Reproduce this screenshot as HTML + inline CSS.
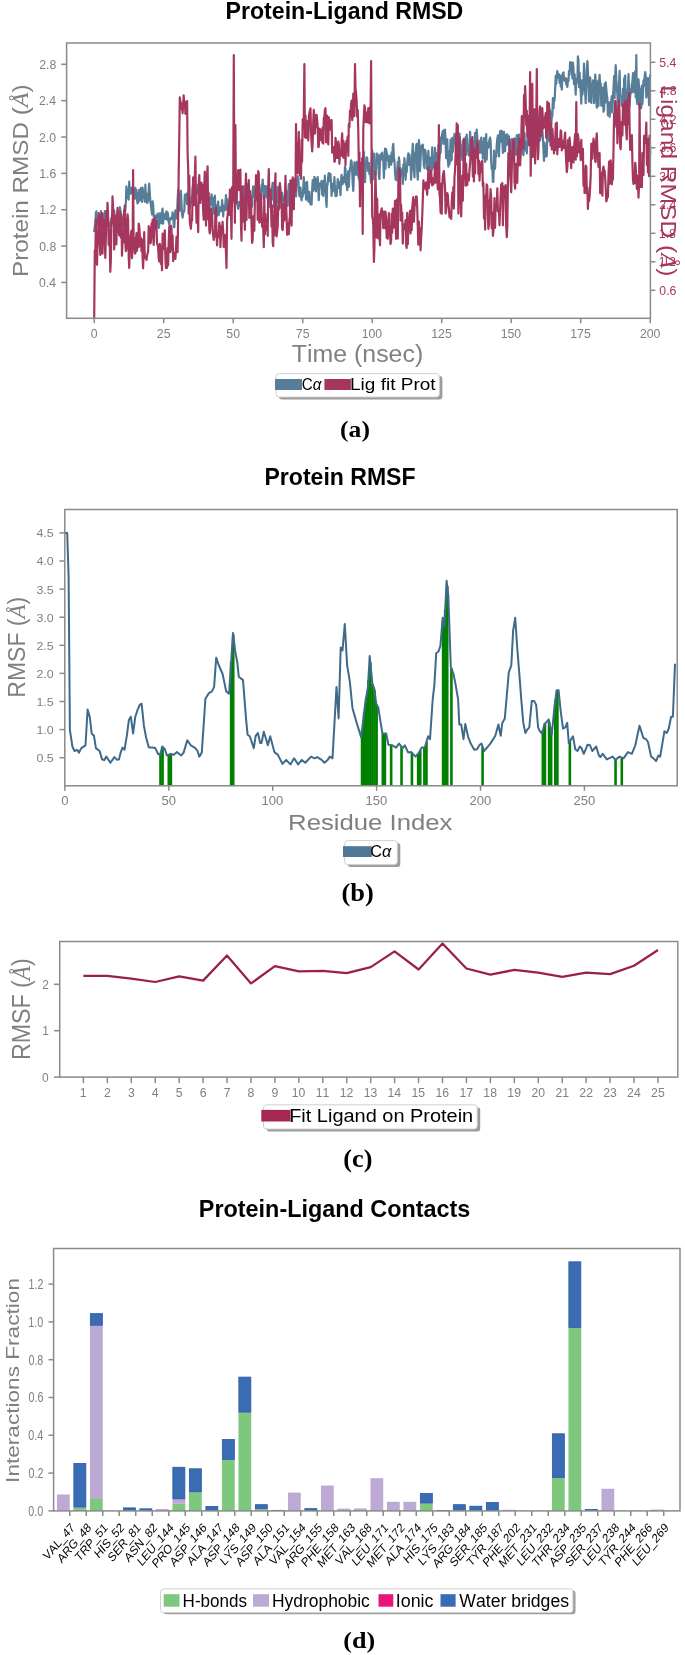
<!DOCTYPE html>
<html><head><meta charset="utf-8"><style>
html,body{margin:0;padding:0;background:#fff;}
svg{display:block;font-kerning:none;will-change:transform;}
</style></head><body>
<svg width="685" height="1655" viewBox="0 0 685 1655">
<rect x="0" y="0" width="685" height="1655" fill="#fff"/>
<text transform="matrix(0.9954,0,0,1.0000,225.551,18.500)" font-family="Liberation Sans" font-size="23.256" fill="#000" font-weight="bold">Protein-Ligand RMSD</text>
<polyline points="94.2,232.0 94.8,225.9 95.3,224.0 95.9,212.7 96.4,211.4 97.0,222.6 97.5,224.2 98.1,221.0 98.6,219.5 99.2,216.3 99.8,219.4 100.3,220.7 100.9,211.1 101.4,221.3 102.0,221.5 102.5,221.6 103.1,215.1 103.7,214.1 104.2,222.8 104.8,211.2 105.3,223.4 105.9,221.1 106.4,217.9 107.0,213.8 107.5,216.9 108.1,219.8 108.7,224.3 109.2,222.2 109.8,225.2 110.3,227.1 110.9,224.0 111.4,225.3 112.0,214.8 112.5,222.6 113.1,210.3 113.7,212.3 114.2,210.7 114.8,223.0 115.3,221.4 115.9,221.7 116.4,225.4 117.0,219.4 117.6,213.5 118.1,217.4 118.7,210.5 119.2,216.2 119.8,207.2 120.3,209.3 120.9,221.4 121.4,217.1 122.0,219.2 122.6,218.3 123.1,225.4 123.7,217.9 124.2,209.8 124.8,218.1 125.3,210.9 125.9,201.1 126.4,186.4 127.0,191.9 127.6,195.6 128.1,198.0 128.7,199.5 129.2,181.7 129.8,194.0 130.3,187.6 130.9,193.3 131.5,190.0 132.0,188.9 132.6,187.0 133.1,198.4 133.7,196.0 134.2,189.7 134.8,198.8 135.3,187.9 135.9,195.8 136.5,189.9 137.0,199.6 137.6,203.5 138.1,192.9 138.7,201.8 139.2,189.8 139.8,192.5 140.3,199.9 140.9,188.1 141.5,198.4 142.0,201.9 142.6,187.6 143.1,197.9 143.7,191.2 144.2,190.5 144.8,201.8 145.4,184.7 145.9,198.8 146.5,193.5 147.0,203.0 147.6,202.2 148.1,200.0 148.7,190.6 149.2,183.7 149.8,192.5 150.4,202.1 150.9,204.7 151.5,210.2 152.0,214.4 152.6,201.4 153.1,203.9 153.7,216.6 154.2,217.7 154.8,220.3 155.4,215.5 155.9,217.4 156.5,216.1 157.0,218.5 157.6,213.6 158.1,223.8 158.7,227.9 159.3,223.4 159.8,213.4 160.4,213.3 160.9,215.8 161.5,223.3 162.0,213.1 162.6,208.5 163.1,223.7 163.7,214.1 164.3,214.3 164.8,215.0 165.4,219.0 165.9,214.1 166.5,211.3 167.0,219.7 167.6,212.6 168.1,214.7 168.7,222.0 169.3,224.8 169.8,220.0 170.4,219.3 170.9,217.8 171.5,218.0 172.0,219.2 172.6,212.3 173.2,215.5 173.7,224.7 174.3,227.3 174.8,218.1 175.4,210.4 175.9,215.1 176.5,218.4 177.0,217.3 177.6,199.9 178.2,189.2 178.7,207.0 179.3,194.5 179.8,210.6 180.4,194.1 180.9,190.8 181.5,203.4 182.0,214.5 182.6,217.6 183.2,213.2 183.7,211.4 184.3,211.3 184.8,194.9 185.4,200.9 185.9,195.4 186.5,193.6 187.1,204.2 187.6,199.1 188.2,196.8 188.7,190.1 189.3,206.9 189.8,207.6 190.4,205.4 190.9,203.0 191.5,196.6 192.1,202.8 192.6,187.1 193.2,200.5 193.7,194.3 194.3,186.2 194.8,183.7 195.4,185.5 195.9,194.8 196.5,188.9 197.1,189.6 197.6,193.7 198.2,184.9 198.7,190.3 199.3,184.5 199.8,185.9 200.4,182.3 201.0,188.8 201.5,190.8 202.1,199.6 202.6,194.9 203.2,201.9 203.7,201.5 204.3,195.2 204.8,187.7 205.4,197.8 206.0,208.1 206.5,198.8 207.1,197.4 207.6,211.2 208.2,202.2 208.7,200.4 209.3,209.3 209.8,197.8 210.4,198.3 211.0,205.2 211.5,194.4 212.1,200.5 212.6,197.4 213.2,213.5 213.7,209.6 214.3,202.1 214.9,195.7 215.4,211.8 216.0,218.2 216.5,216.5 217.1,205.0 217.6,209.2 218.2,201.7 218.7,215.1 219.3,210.0 219.9,207.3 220.4,211.5 221.0,209.4 221.5,210.6 222.1,200.2 222.6,207.5 223.2,216.5 223.7,205.8 224.3,208.2 224.9,210.2 225.4,203.1 226.0,195.1 226.5,206.9 227.1,209.8 227.6,199.7 228.2,210.5 228.8,202.9 229.3,205.6 229.9,197.1 230.4,198.4 231.0,195.2 231.5,189.4 232.1,187.1 232.6,199.5 233.2,192.2 233.8,194.2 234.3,202.7 234.9,201.3 235.4,196.9 236.0,198.0 236.5,191.9 237.1,202.2 237.6,204.8 238.2,208.9 238.8,202.6 239.3,201.9 239.9,202.7 240.4,206.4 241.0,202.5 241.5,189.3 242.1,197.7 242.7,197.9 243.2,191.4 243.8,186.0 244.3,196.2 244.9,198.1 245.4,205.3 246.0,205.8 246.5,191.2 247.1,189.7 247.7,195.2 248.2,192.8 248.8,199.4 249.3,205.0 249.9,208.3 250.4,205.7 251.0,206.1 251.5,207.4 252.1,205.7 252.7,190.5 253.2,186.5 253.8,186.3 254.3,197.1 254.9,195.2 255.4,192.1 256.0,200.2 256.6,191.3 257.1,199.2 257.7,194.8 258.2,197.8 258.8,186.8 259.3,198.8 259.9,196.4 260.4,190.4 261.0,192.3 261.6,185.2 262.1,185.6 262.7,179.6 263.2,190.6 263.8,199.1 264.3,194.9 264.9,185.9 265.4,186.7 266.0,192.2 266.6,197.2 267.1,186.4 267.7,198.1 268.2,202.6 268.8,207.2 269.3,194.6 269.9,201.9 270.5,194.7 271.0,199.2 271.6,199.8 272.1,187.0 272.7,182.8 273.2,182.9 273.8,199.5 274.3,206.8 274.9,205.8 275.5,212.2 276.0,195.9 276.6,205.0 277.1,194.4 277.7,187.0 278.2,188.9 278.8,202.1 279.3,202.7 279.9,204.9 280.5,207.6 281.0,197.7 281.6,202.0 282.1,192.7 282.7,198.9 283.2,200.9 283.8,196.8 284.4,201.6 284.9,196.1 285.5,199.0 286.0,190.4 286.6,196.1 287.1,203.0 287.7,205.9 288.2,194.3 288.8,184.2 289.4,200.4 289.9,197.3 290.5,184.9 291.0,181.3 291.6,181.5 292.1,189.9 292.7,185.2 293.2,182.9 293.8,186.7 294.4,192.4 294.9,192.6 295.5,183.8 296.0,196.5 296.6,181.0 297.1,179.7 297.7,176.2 298.3,178.2 298.8,188.8 299.4,196.2 299.9,188.0 300.5,187.5 301.0,197.4 301.6,200.3 302.1,194.0 302.7,196.7 303.3,187.5 303.8,177.1 304.4,190.9 304.9,193.4 305.5,182.8 306.0,199.6 306.6,190.6 307.1,181.9 307.7,197.4 308.3,201.3 308.8,195.8 309.4,191.9 309.9,201.1 310.5,204.3 311.0,200.9 311.6,204.4 312.2,188.5 312.7,180.2 313.3,191.0 313.8,189.5 314.4,176.9 314.9,178.4 315.5,180.6 316.0,191.5 316.6,179.1 317.2,182.5 317.7,177.2 318.3,189.0 318.8,200.1 319.4,188.8 319.9,183.3 320.5,186.7 321.0,183.7 321.6,180.8 322.2,194.6 322.7,184.9 323.3,195.9 323.8,180.5 324.4,185.7 324.9,175.7 325.5,189.7 326.1,199.6 326.6,206.9 327.2,184.0 327.7,184.5 328.3,175.2 328.8,173.0 329.4,175.9 329.9,181.0 330.5,173.8 331.1,185.2 331.6,195.9 332.2,183.8 332.7,191.6 333.3,188.5 333.8,188.3 334.4,177.1 334.9,187.2 335.5,196.1 336.1,193.5 336.6,196.0 337.2,187.6 337.7,179.0 338.3,187.8 338.8,187.7 339.4,181.8 340.0,189.2 340.5,195.1 341.1,179.3 341.6,174.9 342.2,184.4 342.7,183.9 343.3,180.2 343.8,177.0 344.4,182.2 345.0,166.8 345.5,169.0 346.1,184.6 346.6,182.9 347.2,190.1 347.7,177.4 348.3,171.1 348.8,186.8 349.4,174.3 350.0,169.0 350.5,166.2 351.1,160.3 351.6,161.7 352.2,171.4 352.7,183.6 353.3,190.8 353.9,173.4 354.4,162.4 355.0,170.3 355.5,174.7 356.1,167.6 356.6,162.5 357.2,161.6 357.7,175.4 358.3,162.1 358.9,178.9 359.4,167.6 360.0,185.5 360.5,190.9 361.1,177.0 361.6,171.0 362.2,164.9 362.7,157.8 363.3,160.4 363.9,152.2 364.4,174.0 365.0,182.2 365.5,166.5 366.1,164.9 366.6,157.4 367.2,157.9 367.8,170.8 368.3,165.5 368.9,163.0 369.4,174.1 370.0,170.5 370.5,177.1 371.1,183.0 371.6,160.2 372.2,150.0 372.8,175.0 373.3,179.3 373.9,153.7 374.4,169.3 375.0,171.3 375.5,174.5 376.1,168.4 376.6,153.5 377.2,153.9 377.8,155.6 378.3,155.6 378.9,175.8 379.4,179.0 380.0,161.3 380.5,154.4 381.1,159.5 381.7,156.0 382.2,152.7 382.8,157.2 383.3,161.3 383.9,177.9 384.4,165.4 385.0,148.5 385.5,168.7 386.1,149.1 386.7,153.1 387.2,153.9 387.8,160.3 388.3,158.4 388.9,167.3 389.4,156.3 390.0,155.7 390.5,164.2 391.1,164.8 391.7,152.3 392.2,161.6 392.8,146.1 393.3,143.9 393.9,157.1 394.4,160.2 395.0,171.7 395.6,179.5 396.1,174.9 396.7,180.5 397.2,170.2 397.8,161.8 398.3,175.9 398.9,157.4 399.4,161.3 400.0,178.4 400.6,168.1 401.1,170.7 401.7,174.7 402.2,170.9 402.8,183.9 403.3,164.6 403.9,175.5 404.4,158.0 405.0,166.9 405.6,179.8 406.1,169.3 406.7,172.3 407.2,163.1 407.8,156.8 408.3,153.3 408.9,164.8 409.5,154.7 410.0,160.5 410.6,163.8 411.1,179.6 411.7,168.3 412.2,154.8 412.8,143.8 413.3,158.9 413.9,170.0 414.5,177.3 415.0,152.7 415.6,155.2 416.1,146.2 416.7,143.9 417.2,171.1 417.8,179.7 418.3,155.4 418.9,140.0 419.5,148.1 420.0,171.1 420.6,158.7 421.1,146.5 421.7,145.6 422.2,148.2 422.8,144.5 423.4,156.5 423.9,166.0 424.5,168.1 425.0,149.6 425.6,151.6 426.1,160.2 426.7,156.5 427.2,169.4 427.8,162.1 428.4,150.9 428.9,163.2 429.5,172.6 430.0,157.5 430.6,157.6 431.1,166.7 431.7,170.4 432.2,147.4 432.8,168.2 433.4,163.4 433.9,158.0 434.5,161.4 435.0,147.8 435.6,164.8 436.1,152.8 436.7,171.3 437.3,181.7 437.8,176.0 438.4,145.3 438.9,162.7 439.5,157.5 440.0,145.9 440.6,152.8 441.1,137.4 441.7,138.9 442.3,133.2 442.8,131.2 443.4,144.0 443.9,130.3 444.5,130.7 445.0,129.6 445.6,142.2 446.1,158.1 446.7,147.3 447.3,139.3 447.8,159.4 448.4,166.6 448.9,151.5 449.5,164.2 450.0,155.3 450.6,139.6 451.2,160.6 451.7,159.4 452.3,137.8 452.8,151.9 453.4,147.1 453.9,141.2 454.5,133.8 455.0,134.6 455.6,138.3 456.2,151.7 456.7,154.5 457.3,159.2 457.8,152.4 458.4,144.6 458.9,135.5 459.5,133.6 460.0,142.2 460.6,156.0 461.2,145.6 461.7,148.1 462.3,160.2 462.8,140.7 463.4,151.9 463.9,155.7 464.5,151.0 465.1,151.2 465.6,137.1 466.2,154.8 466.7,134.5 467.3,150.8 467.8,146.6 468.4,149.7 468.9,155.6 469.5,142.4 470.1,131.9 470.6,143.0 471.2,158.9 471.7,159.4 472.3,159.7 472.8,155.8 473.4,141.7 473.9,153.2 474.5,141.0 475.1,132.9 475.6,143.6 476.2,148.0 476.7,129.7 477.3,137.3 477.8,144.9 478.4,152.9 479.0,152.9 479.5,149.1 480.1,140.6 480.6,152.6 481.2,137.5 481.7,145.3 482.3,144.1 482.8,158.6 483.4,147.8 484.0,138.0 484.5,145.3 485.1,161.9 485.6,141.2 486.2,134.0 486.7,159.6 487.3,142.9 487.8,146.0 488.4,147.7 489.0,143.0 489.5,139.5 490.1,137.6 490.6,141.2 491.2,161.3 491.7,168.9 492.3,166.7 492.9,182.0 493.4,182.0 494.0,150.6 494.5,169.2 495.1,168.1 495.6,155.3 496.2,156.5 496.7,145.3 497.3,139.0 497.9,135.4 498.4,144.8 499.0,156.5 499.5,140.6 500.1,131.2 500.6,141.9 501.2,136.6 501.7,130.9 502.3,139.7 502.9,152.9 503.4,143.2 504.0,131.8 504.5,146.7 505.1,151.3 505.6,139.5 506.2,134.8 506.8,145.0 507.3,134.3 507.9,140.5 508.4,143.4 509.0,136.4 509.5,145.8 510.1,156.3 510.6,159.3 511.2,155.6 511.8,139.0 512.3,153.4 512.9,150.3 513.4,141.1 514.0,154.1 514.5,138.4 515.1,151.1 515.6,141.8 516.2,154.8 516.8,135.1 517.3,136.1 517.9,153.9 518.4,136.4 519.0,134.5 519.5,152.2 520.1,157.3 520.7,143.2 521.2,144.6 521.8,141.2 522.3,137.3 522.9,152.7 523.4,155.1 524.0,140.7 524.5,133.1 525.1,150.3 525.7,147.1 526.2,142.3 526.8,153.4 527.3,140.9 527.9,134.1 528.4,134.6 529.0,129.3 529.5,135.2 530.1,144.0 530.7,136.3 531.2,142.1 531.8,152.0 532.3,136.8 532.9,129.9 533.4,138.9 534.0,136.4 534.6,139.5 535.1,139.3 535.7,140.3 536.2,132.4 536.8,137.7 537.3,140.5 537.9,137.7 538.4,135.0 539.0,140.7 539.6,140.9 540.1,140.2 540.7,132.4 541.2,127.7 541.8,127.6 542.3,129.8 542.9,137.9 543.4,148.8 544.0,160.8 544.6,142.7 545.1,148.0 545.7,149.4 546.2,156.7 546.8,155.9 547.3,134.5 547.9,127.2 548.5,140.9 549.0,139.9 549.6,122.8 550.1,110.4 550.7,126.3 551.2,123.1 551.8,117.1 552.3,116.2 552.9,98.2 553.5,108.4 554.0,100.1 554.6,100.3 555.1,90.3 555.7,75.9 556.2,84.0 556.8,76.4 557.3,71.1 557.9,74.9 558.5,77.9 559.0,74.4 559.6,82.8 560.1,75.3 560.7,86.5 561.2,82.9 561.8,89.7 562.4,75.2 562.9,73.0 563.5,72.4 564.0,78.5 564.6,80.8 565.1,80.5 565.7,78.0 566.2,84.2 566.8,85.2 567.4,87.0 567.9,78.8 568.5,81.2 569.0,71.2 569.6,74.7 570.1,62.2 570.7,62.4 571.2,68.6 571.8,66.5 572.4,78.5 572.9,62.5 573.5,68.8 574.0,84.1 574.6,74.1 575.1,81.6 575.7,94.6 576.3,78.8 576.8,81.9 577.4,82.3 577.9,56.3 578.5,60.6 579.0,87.2 579.6,72.6 580.1,83.8 580.7,91.2 581.3,103.7 581.8,80.4 582.4,94.7 582.9,88.8 583.5,80.9 584.0,63.7 584.6,88.2 585.1,91.3 585.7,103.2 586.3,81.3 586.8,68.8 587.4,61.1 587.9,70.2 588.5,87.6 589.0,101.7 589.6,77.8 590.2,77.5 590.7,94.9 591.3,103.0 591.8,83.6 592.4,92.1 592.9,80.3 593.5,85.8 594.0,103.1 594.6,93.5 595.2,74.5 595.7,80.0 596.3,99.8 596.8,107.7 597.4,81.4 597.9,102.0 598.5,105.8 599.0,82.7 599.6,74.8 600.2,88.2 600.7,83.3 601.3,105.8 601.8,90.5 602.4,87.7 602.9,90.4 603.5,111.8 604.1,109.6 604.6,83.9 605.2,102.7 605.7,82.4 606.3,89.1 606.8,94.4 607.4,98.9 607.9,115.3 608.5,102.9 609.1,102.4 609.6,116.8 610.2,111.3 610.7,102.2 611.3,100.7 611.8,96.0 612.4,112.4 612.9,97.9 613.5,88.9 614.1,76.0 614.6,98.1 615.2,76.0 615.7,65.2 616.3,79.4 616.8,85.6 617.4,95.5 618.0,107.2 618.5,114.9 619.1,82.4 619.6,70.9 620.2,96.8 620.7,96.2 621.3,98.0 621.8,105.8 622.4,101.0 623.0,88.6 623.5,112.3 624.1,79.4 624.6,77.3 625.2,75.6 625.7,98.4 626.3,115.0 626.8,117.6 627.4,90.3 628.0,89.4 628.5,74.2 629.1,89.7 629.6,106.1 630.2,96.3 630.7,89.2 631.3,92.8 631.9,83.6 632.4,82.2 633.0,73.2 633.5,92.2 634.1,86.4 634.6,79.9 635.2,71.4 635.7,97.3 636.3,55.0 636.9,101.5 637.4,104.1 638.0,95.1 638.5,79.4 639.1,87.5 639.6,108.6 640.2,107.5 640.7,88.8 641.3,108.0 641.9,85.5 642.4,104.1 643.0,93.9 643.5,80.4 644.1,86.0 644.6,76.9 645.2,72.1 645.8,77.1 646.3,97.5 646.9,93.4 647.4,86.2 648.0,78.0 648.5,89.5 649.1,105.1 649.6,83.4 650.2,74.7" fill="none" stroke="#577d98" stroke-width="2.2" stroke-linejoin="round" />
<polyline points="94.2,318.3 94.8,250.2 95.3,256.9 95.9,219.4 96.4,254.8 97.0,264.8 97.5,245.3 98.1,242.3 98.6,213.0 99.2,216.8 99.8,243.9 100.3,254.9 100.9,249.2 101.4,214.4 102.0,213.1 102.5,253.6 103.1,230.9 103.7,236.1 104.2,220.1 104.8,240.2 105.3,258.0 105.9,235.8 106.4,210.9 107.0,217.9 107.5,202.8 108.1,215.3 108.7,245.1 109.2,229.0 109.8,246.5 110.3,271.8 110.9,258.4 111.4,218.3 112.0,222.6 112.5,196.4 113.1,208.5 113.7,210.5 114.2,249.4 114.8,232.6 115.3,236.1 115.9,215.8 116.4,244.4 117.0,215.2 117.6,207.8 118.1,232.1 118.7,226.7 119.2,235.4 119.8,226.8 120.3,211.6 120.9,237.6 121.4,214.7 122.0,255.7 122.6,238.7 123.1,242.3 123.7,236.6 124.2,214.4 124.8,205.6 125.3,243.3 125.9,251.1 126.4,248.7 127.0,221.6 127.6,214.3 128.1,219.2 128.7,256.2 129.2,267.9 129.8,247.7 130.3,240.2 130.9,233.9 131.5,230.5 132.0,258.2 132.6,245.8 133.1,170.0 133.7,247.9 134.2,238.0 134.8,253.2 135.3,253.6 135.9,240.9 136.5,233.0 137.0,250.9 137.6,237.0 138.1,247.3 138.7,223.7 139.2,225.7 139.8,235.4 140.3,246.6 140.9,237.8 141.5,251.3 142.0,239.5 142.6,257.5 143.1,268.3 143.7,252.6 144.2,232.2 144.8,257.8 145.4,256.3 145.9,257.4 146.5,260.0 147.0,256.0 147.6,252.8 148.1,252.2 148.7,226.2 149.2,234.6 149.8,228.1 150.4,243.5 150.9,241.9 151.5,223.7 152.0,228.5 152.6,219.5 153.1,235.2 153.7,245.0 154.2,232.6 154.8,218.1 155.4,224.9 155.9,220.3 156.5,225.7 157.0,243.2 157.6,245.0 158.1,247.1 158.7,258.0 159.3,261.5 159.8,243.9 160.4,247.4 160.9,264.0 161.5,254.9 162.0,270.2 162.6,233.7 163.1,244.6 163.7,249.1 164.3,239.9 164.8,230.3 165.4,258.6 165.9,268.0 166.5,255.8 167.0,267.9 167.6,248.1 168.1,265.4 168.7,241.8 169.3,226.5 169.8,234.8 170.4,252.1 170.9,225.5 171.5,227.3 172.0,249.5 172.6,235.4 173.2,261.1 173.7,253.9 174.3,253.0 174.8,256.8 175.4,258.9 175.9,250.0 176.5,236.8 177.0,239.3 177.6,252.1 178.2,213.0 178.7,172.0 179.3,135.6 179.8,97.4 180.4,101.3 180.9,109.2 181.5,106.7 182.0,103.6 182.6,113.3 183.2,103.9 183.7,95.3 184.3,106.7 184.8,101.3 185.4,113.8 185.9,108.2 186.5,106.7 187.1,101.1 187.6,153.9 188.2,168.2 188.7,213.7 189.3,175.6 189.8,221.4 190.4,226.2 190.9,228.7 191.5,219.6 192.1,220.6 192.6,195.1 193.2,177.4 193.7,187.6 194.3,205.1 194.8,178.3 195.4,156.6 195.9,194.3 196.5,222.8 197.1,205.1 197.6,209.5 198.2,232.1 198.7,185.4 199.3,175.0 199.8,193.5 200.4,203.0 201.0,188.4 201.5,182.8 202.1,197.2 202.6,184.9 203.2,211.7 203.7,219.8 204.3,183.8 204.8,171.6 205.4,198.6 206.0,225.7 206.5,200.9 207.1,174.2 207.6,166.4 208.2,219.4 208.7,192.9 209.3,230.2 209.8,233.4 210.4,225.1 211.0,208.3 211.5,218.4 212.1,213.9 212.6,230.2 213.2,235.6 213.7,240.0 214.3,232.6 214.9,236.4 215.4,211.6 216.0,207.7 216.5,237.0 217.1,245.5 217.6,233.8 218.2,237.2 218.7,233.7 219.3,222.5 219.9,227.2 220.4,247.1 221.0,233.4 221.5,226.4 222.1,227.3 222.6,221.8 223.2,232.0 223.7,247.0 224.3,245.9 224.9,234.9 225.4,237.6 226.0,253.4 226.5,268.0 227.1,219.5 227.6,215.6 228.2,206.9 228.8,203.2 229.3,215.0 229.9,189.7 230.4,207.4 231.0,211.7 231.5,238.8 232.1,187.8 232.6,188.2 233.2,199.9 233.8,55.0 234.3,180.0 234.9,222.8 235.4,125.0 236.0,203.3 236.5,198.2 237.1,189.5 237.6,182.8 238.2,170.0 238.8,173.3 239.3,190.2 239.9,173.7 240.4,169.5 241.0,225.7 241.5,240.7 242.1,186.6 242.7,200.9 243.2,198.1 243.8,221.8 244.3,200.5 244.9,229.8 245.4,189.7 246.0,173.7 246.5,219.9 247.1,187.3 247.7,184.0 248.2,195.8 248.8,180.1 249.3,218.0 249.9,190.9 250.4,194.4 251.0,198.9 251.5,224.0 252.1,242.9 252.7,239.9 253.2,216.4 253.8,223.2 254.3,230.8 254.9,200.8 255.4,198.5 256.0,175.2 256.6,181.0 257.1,177.1 257.7,219.8 258.2,171.0 258.8,173.3 259.3,222.6 259.9,222.3 260.4,209.3 261.0,194.1 261.6,211.7 262.1,226.6 262.7,218.0 263.2,227.6 263.8,247.2 264.3,196.0 264.9,234.5 265.4,213.9 266.0,230.3 266.6,219.4 267.1,220.1 267.7,235.8 268.2,187.3 268.8,169.0 269.3,194.4 269.9,196.9 270.5,189.6 271.0,207.3 271.6,226.8 272.1,205.4 272.7,242.5 273.2,246.2 273.8,215.6 274.3,235.4 274.9,186.2 275.5,173.3 276.0,225.5 276.6,236.4 277.1,232.2 277.7,226.5 278.2,206.1 278.8,209.8 279.3,187.6 279.9,183.0 280.5,189.4 281.0,201.1 281.6,199.7 282.1,228.7 282.7,230.2 283.2,219.7 283.8,203.7 284.4,220.5 284.9,198.4 285.5,175.8 286.0,200.9 286.6,217.0 287.1,234.8 287.7,225.5 288.2,223.3 288.8,234.3 289.4,220.0 289.9,217.0 290.5,180.4 291.0,210.9 291.6,225.7 292.1,193.2 292.7,177.4 293.2,188.9 293.8,209.3 294.4,179.3 294.9,188.3 295.5,192.1 296.0,124.0 296.6,166.0 297.1,173.5 297.7,142.5 298.3,172.6 298.8,131.9 299.4,170.5 299.9,175.3 300.5,154.2 301.0,178.8 301.6,139.6 302.1,161.7 302.7,119.2 303.3,128.2 303.8,117.1 304.4,64.0 304.9,137.2 305.5,115.6 306.0,138.1 306.6,126.0 307.1,134.4 307.7,121.2 308.3,140.5 308.8,118.4 309.4,112.9 309.9,110.8 310.5,108.3 311.0,132.0 311.6,142.9 312.2,151.5 312.7,142.9 313.3,119.5 313.8,109.9 314.4,118.6 314.9,133.6 315.5,115.7 316.0,127.3 316.6,114.8 317.2,120.5 317.7,127.2 318.3,147.1 318.8,146.8 319.4,128.7 319.9,129.5 320.5,139.9 321.0,129.7 321.6,130.7 322.2,142.4 322.7,127.3 323.3,143.6 323.8,118.2 324.4,116.7 324.9,109.8 325.5,108.2 326.1,142.3 326.6,131.0 327.2,115.6 327.7,140.2 328.3,144.4 328.8,117.4 329.4,125.2 329.9,129.7 330.5,120.4 331.1,126.3 331.6,120.2 332.2,152.6 332.7,152.2 333.3,147.8 333.8,147.2 334.4,161.8 334.9,161.0 335.5,137.8 336.1,143.0 336.6,157.9 337.2,148.9 337.7,157.8 338.3,141.5 338.8,144.6 339.4,163.8 340.0,152.3 340.5,149.9 341.1,155.3 341.6,141.3 342.2,133.4 342.7,156.8 343.3,140.5 343.8,157.9 344.4,155.9 345.0,143.7 345.5,165.2 346.1,144.1 346.6,140.5 347.2,142.6 347.7,136.3 348.3,155.8 348.8,124.2 349.4,127.0 350.0,110.5 350.5,116.8 351.1,104.2 351.6,100.7 352.2,120.2 352.7,116.0 353.3,93.6 353.9,103.9 354.4,116.0 355.0,64.0 355.5,87.8 356.1,93.8 356.6,100.3 357.2,116.7 357.7,109.9 358.3,132.0 358.9,170.8 359.4,152.3 360.0,206.4 360.5,172.2 361.1,162.8 361.6,181.7 362.2,158.2 362.7,234.0 363.3,128.9 363.9,115.5 364.4,105.3 365.0,107.7 365.5,122.0 366.1,112.3 366.6,118.5 367.2,122.4 367.8,114.2 368.3,108.2 368.9,119.2 369.4,123.4 370.0,107.3 370.5,115.9 371.1,61.0 371.6,157.2 372.2,216.6 372.8,218.5 373.3,226.5 373.9,262.0 374.4,248.7 375.0,197.0 375.5,171.8 376.1,202.5 376.6,237.4 377.2,198.7 377.8,232.4 378.3,238.4 378.9,214.7 379.4,232.9 380.0,245.3 380.5,214.9 381.1,210.9 381.7,208.3 382.2,213.8 382.8,218.0 383.3,228.2 383.9,211.7 384.4,227.2 385.0,228.1 385.5,211.7 386.1,219.4 386.7,237.9 387.2,235.0 387.8,238.7 388.3,220.8 388.9,213.1 389.4,234.8 390.0,232.2 390.5,244.0 391.1,240.7 391.7,213.6 392.2,232.8 392.8,208.6 393.3,213.0 393.9,227.7 394.4,220.5 395.0,200.8 395.6,219.3 396.1,238.8 396.7,199.7 397.2,229.9 397.8,238.5 398.3,185.5 398.9,168.2 399.4,196.0 400.0,170.9 400.6,220.5 401.1,204.8 401.7,220.7 402.2,212.5 402.8,243.6 403.3,224.4 403.9,229.4 404.4,224.1 405.0,226.1 405.6,220.2 406.1,244.7 406.7,248.0 407.2,212.8 407.8,244.2 408.3,229.6 408.9,230.9 409.5,217.0 410.0,210.8 410.6,233.5 411.1,210.5 411.7,230.2 412.2,207.8 412.8,201.5 413.3,197.1 413.9,221.8 414.5,207.8 415.0,200.1 415.6,204.6 416.1,196.3 416.7,196.9 417.2,207.7 417.8,226.5 418.3,244.7 418.9,221.7 419.5,243.2 420.0,228.1 420.6,250.3 421.1,238.7 421.7,228.4 422.2,216.7 422.8,199.6 423.4,180.4 423.9,183.5 424.5,186.2 425.0,186.6 425.6,189.3 426.1,182.4 426.7,187.2 427.2,194.8 427.8,182.9 428.4,167.6 428.9,188.0 429.5,173.0 430.0,180.1 430.6,182.4 431.1,170.6 431.7,180.0 432.2,185.4 432.8,178.0 433.4,184.4 433.9,182.5 434.5,177.3 435.0,163.9 435.6,182.7 436.1,162.2 436.7,181.0 437.3,176.9 437.8,189.3 438.4,184.3 438.9,125.0 439.5,194.4 440.0,197.2 440.6,212.8 441.1,183.9 441.7,213.8 442.3,185.1 442.8,176.5 443.4,173.0 443.9,171.1 444.5,180.1 445.0,187.0 445.6,213.4 446.1,211.4 446.7,198.6 447.3,193.2 447.8,194.8 448.4,205.1 448.9,208.3 449.5,217.3 450.0,217.2 450.6,211.5 451.2,219.0 451.7,202.9 452.3,192.4 452.8,203.8 453.4,186.9 453.9,208.6 454.5,176.7 455.0,171.7 455.6,154.3 456.2,142.6 456.7,123.3 457.3,164.6 457.8,125.0 458.4,213.6 458.9,158.9 459.5,137.4 460.0,181.2 460.6,200.4 461.2,216.4 461.7,192.5 462.3,175.4 462.8,200.8 463.4,167.3 463.9,138.8 464.5,140.5 465.1,167.8 465.6,185.6 466.2,163.5 466.7,185.1 467.3,185.0 467.8,174.6 468.4,177.4 468.9,180.5 469.5,170.0 470.1,163.6 470.6,153.5 471.2,139.7 471.7,143.4 472.3,137.2 472.8,176.6 473.4,149.0 473.9,181.5 474.5,163.0 475.1,173.3 475.6,148.0 476.2,150.5 476.7,157.6 477.3,140.5 477.8,145.8 478.4,174.2 479.0,160.6 479.5,180.6 480.1,168.1 480.6,171.8 481.2,163.7 481.7,161.5 482.3,161.0 482.8,186.1 483.4,182.7 484.0,218.6 484.5,195.4 485.1,229.6 485.6,196.7 486.2,196.4 486.7,184.3 487.3,186.1 487.8,212.2 488.4,229.0 489.0,223.6 489.5,200.7 490.1,199.4 490.6,189.0 491.2,197.8 491.7,228.2 492.3,212.4 492.9,235.9 493.4,232.2 494.0,217.0 494.5,198.2 495.1,227.8 495.6,205.8 496.2,206.9 496.7,208.0 497.3,188.4 497.9,211.3 498.4,211.7 499.0,212.1 499.5,225.3 500.1,209.0 500.6,194.8 501.2,184.3 501.7,191.5 502.3,183.1 502.9,225.3 503.4,203.3 504.0,186.6 504.5,188.4 505.1,194.7 505.6,185.2 506.2,226.3 506.8,237.1 507.3,227.4 507.9,183.3 508.4,153.2 509.0,168.1 509.5,139.9 510.1,174.8 510.6,180.6 511.2,192.3 511.8,168.4 512.3,151.5 512.9,148.6 513.4,139.1 514.0,142.5 514.5,181.4 515.1,188.6 515.6,178.2 516.2,163.9 516.8,171.8 517.3,182.8 517.9,148.9 518.4,165.2 519.0,138.8 519.5,141.4 520.1,165.5 520.7,153.6 521.2,140.3 521.8,116.1 522.3,147.5 522.9,136.5 523.4,148.5 524.0,95.1 524.5,117.2 525.1,86.0 525.7,101.5 526.2,125.1 526.8,110.5 527.3,136.8 527.9,115.5 528.4,124.4 529.0,145.3 529.5,132.2 530.1,72.0 530.7,175.8 531.2,144.6 531.8,89.8 532.3,83.9 532.9,157.0 533.4,126.4 534.0,146.0 534.6,109.3 535.1,163.5 535.7,119.3 536.2,126.3 536.8,69.0 537.3,134.9 537.9,159.3 538.4,151.9 539.0,129.2 539.6,110.5 540.1,106.3 540.7,117.4 541.2,136.2 541.8,132.4 542.3,108.2 542.9,119.4 543.4,128.3 544.0,119.3 544.6,127.1 545.1,117.7 545.7,113.2 546.2,137.9 546.8,133.2 547.3,101.5 547.9,117.5 548.5,129.7 549.0,103.3 549.6,116.4 550.1,137.4 550.7,145.6 551.2,122.3 551.8,149.5 552.3,128.6 552.9,136.1 553.5,145.7 554.0,153.5 554.6,143.9 555.1,150.2 555.7,123.7 556.2,129.8 556.8,122.7 557.3,154.3 557.9,144.0 558.5,139.0 559.0,147.0 559.6,147.0 560.1,140.5 560.7,130.4 561.2,131.4 561.8,150.5 562.4,144.7 562.9,140.8 563.5,145.2 564.0,148.1 564.6,137.5 565.1,132.6 565.7,151.2 566.2,161.1 566.8,172.2 567.4,167.3 567.9,140.0 568.5,160.9 569.0,160.4 569.6,137.7 570.1,144.0 570.7,160.0 571.2,168.1 571.8,149.7 572.4,147.1 572.9,147.1 573.5,162.5 574.0,148.0 574.6,140.9 575.1,134.0 575.7,159.7 576.3,102.0 576.8,156.5 577.4,147.8 577.9,134.2 578.5,138.8 579.0,152.3 579.6,142.3 580.1,147.0 580.7,160.1 581.3,139.8 581.8,158.9 582.4,152.8 582.9,148.9 583.5,185.7 584.0,171.1 584.6,193.2 585.1,176.7 585.7,165.7 586.3,166.4 586.8,193.2 587.4,187.5 587.9,209.0 588.5,193.8 589.0,201.0 589.6,196.3 590.2,185.9 590.7,175.6 591.3,143.5 591.8,152.7 592.4,158.7 592.9,147.5 593.5,138.6 594.0,146.5 594.6,141.4 595.2,161.2 595.7,162.0 596.3,139.2 596.8,133.3 597.4,151.8 597.9,154.3 598.5,166.9 599.0,159.3 599.6,153.2 600.2,193.3 600.7,180.1 601.3,172.7 601.8,178.5 602.4,195.7 602.9,169.1 603.5,166.6 604.1,171.1 604.6,170.5 605.2,178.1 605.7,187.7 606.3,201.4 606.8,200.1 607.4,193.1 607.9,197.2 608.5,175.4 609.1,161.6 609.6,183.8 610.2,170.4 610.7,160.3 611.3,168.9 611.8,184.3 612.4,179.2 612.9,179.4 613.5,150.0 614.1,113.5 614.6,124.0 615.2,100.9 615.7,101.3 616.3,126.9 616.8,109.1 617.4,143.3 618.0,126.5 618.5,131.1 619.1,99.9 619.6,117.6 620.2,146.2 620.7,149.2 621.3,130.0 621.8,121.9 622.4,135.4 623.0,104.0 623.5,115.9 624.1,121.2 624.6,124.7 625.2,100.8 625.7,104.7 626.3,132.5 626.8,139.3 627.4,105.9 628.0,99.0 628.5,123.8 629.1,93.1 629.6,127.0 630.2,149.9 630.7,143.5 631.3,140.5 631.9,135.2 632.4,161.8 633.0,180.2 633.5,183.8 634.1,176.1 634.6,183.1 635.2,162.8 635.7,167.0 636.3,179.0 636.9,188.9 637.4,175.9 638.0,183.0 638.5,197.6 639.1,182.8 639.6,104.0 640.2,183.1 640.7,186.8 641.3,170.3 641.9,187.2 642.4,153.0 643.0,160.9 643.5,175.0 644.1,135.9 644.6,143.1 645.2,135.5 645.8,134.6 646.3,122.6 646.9,165.0 647.4,138.6 648.0,172.5 648.5,138.5 649.1,176.3 649.6,135.5 650.2,154.9" fill="none" stroke="#a5375e" stroke-width="2.2" stroke-linejoin="round" />
<rect x="66.60" y="43.00" width="583.80" height="275.30" fill="none" stroke="#8a8a8a" stroke-width="1.5"/>
<line x1="61.20" y1="282.46" x2="66.60" y2="282.46" stroke="#8a8a8a" stroke-width="1.5"/>
<text transform="matrix(0.9550,0,0,1.0000,39.000,286.946)" font-family="Liberation Sans" font-size="12.850" fill="#808080">0.4</text>
<line x1="61.20" y1="246.10" x2="66.60" y2="246.10" stroke="#8a8a8a" stroke-width="1.5"/>
<text transform="matrix(0.9550,0,0,1.0000,39.174,250.586)" font-family="Liberation Sans" font-size="12.850" fill="#808080">0.8</text>
<line x1="61.20" y1="209.74" x2="66.60" y2="209.74" stroke="#8a8a8a" stroke-width="1.5"/>
<text transform="matrix(0.9550,0,0,1.0000,39.258,214.226)" font-family="Liberation Sans" font-size="12.850" fill="#808080">1.2</text>
<line x1="61.20" y1="173.38" x2="66.60" y2="173.38" stroke="#8a8a8a" stroke-width="1.5"/>
<text transform="matrix(0.9550,0,0,1.0000,39.180,177.866)" font-family="Liberation Sans" font-size="12.850" fill="#808080">1.6</text>
<line x1="61.20" y1="137.02" x2="66.60" y2="137.02" stroke="#8a8a8a" stroke-width="1.5"/>
<text transform="matrix(0.9550,0,0,1.0000,39.120,141.506)" font-family="Liberation Sans" font-size="12.850" fill="#808080">2.0</text>
<line x1="61.20" y1="100.66" x2="66.60" y2="100.66" stroke="#8a8a8a" stroke-width="1.5"/>
<text transform="matrix(0.9550,0,0,1.0000,39.000,105.146)" font-family="Liberation Sans" font-size="12.850" fill="#808080">2.4</text>
<line x1="61.20" y1="64.30" x2="66.60" y2="64.30" stroke="#8a8a8a" stroke-width="1.5"/>
<text transform="matrix(0.9550,0,0,1.0000,39.174,68.786)" font-family="Liberation Sans" font-size="12.850" fill="#808080">2.8</text>
<line x1="94.20" y1="318.30" x2="94.20" y2="323.30" stroke="#8a8a8a" stroke-width="1.5"/>
<text transform="matrix(0.9550,0,0,1.0000,90.788,337.786)" font-family="Liberation Sans" font-size="12.850" fill="#808080">0</text>
<line x1="163.70" y1="318.30" x2="163.70" y2="323.30" stroke="#8a8a8a" stroke-width="1.5"/>
<text transform="matrix(0.9550,0,0,1.0000,156.824,337.786)" font-family="Liberation Sans" font-size="12.850" fill="#808080">25</text>
<line x1="233.20" y1="318.30" x2="233.20" y2="323.30" stroke="#8a8a8a" stroke-width="1.5"/>
<text transform="matrix(0.9550,0,0,1.0000,226.369,337.786)" font-family="Liberation Sans" font-size="12.850" fill="#808080">50</text>
<line x1="302.70" y1="318.30" x2="302.70" y2="323.30" stroke="#8a8a8a" stroke-width="1.5"/>
<text transform="matrix(0.9550,0,0,1.0000,295.818,337.786)" font-family="Liberation Sans" font-size="12.850" fill="#808080">75</text>
<line x1="372.20" y1="318.30" x2="372.20" y2="323.30" stroke="#8a8a8a" stroke-width="1.5"/>
<text transform="matrix(0.9550,0,0,1.0000,361.735,337.786)" font-family="Liberation Sans" font-size="12.850" fill="#808080">100</text>
<line x1="441.70" y1="318.30" x2="441.70" y2="323.30" stroke="#8a8a8a" stroke-width="1.5"/>
<text transform="matrix(0.9550,0,0,1.0000,431.253,337.786)" font-family="Liberation Sans" font-size="12.850" fill="#808080">125</text>
<line x1="511.20" y1="318.30" x2="511.20" y2="323.30" stroke="#8a8a8a" stroke-width="1.5"/>
<text transform="matrix(0.9550,0,0,1.0000,500.735,337.786)" font-family="Liberation Sans" font-size="12.850" fill="#808080">150</text>
<line x1="580.70" y1="318.30" x2="580.70" y2="323.30" stroke="#8a8a8a" stroke-width="1.5"/>
<text transform="matrix(0.9550,0,0,1.0000,570.253,337.786)" font-family="Liberation Sans" font-size="12.850" fill="#808080">175</text>
<line x1="650.20" y1="318.30" x2="650.20" y2="323.30" stroke="#8a8a8a" stroke-width="1.5"/>
<text transform="matrix(0.9550,0,0,1.0000,639.894,337.786)" font-family="Liberation Sans" font-size="12.850" fill="#808080">200</text>
<line x1="650.40" y1="290.30" x2="655.40" y2="290.30" stroke="#8a8a8a" stroke-width="1.5"/>
<text transform="matrix(0.9550,0,0,1.0000,659.321,294.786)" font-family="Liberation Sans" font-size="12.850" fill="#a5375e">0.6</text>
<line x1="650.40" y1="261.80" x2="655.40" y2="261.80" stroke="#8a8a8a" stroke-width="1.5"/>
<text transform="matrix(0.9550,0,0,1.0000,658.865,266.286)" font-family="Liberation Sans" font-size="12.850" fill="#a5375e">1.2</text>
<line x1="650.40" y1="233.30" x2="655.40" y2="233.30" stroke="#8a8a8a" stroke-width="1.5"/>
<text transform="matrix(0.9550,0,0,1.0000,658.865,237.786)" font-family="Liberation Sans" font-size="12.850" fill="#a5375e">1.8</text>
<line x1="650.40" y1="204.80" x2="655.40" y2="204.80" stroke="#8a8a8a" stroke-width="1.5"/>
<text transform="matrix(0.9550,0,0,1.0000,659.183,209.286)" font-family="Liberation Sans" font-size="12.850" fill="#a5375e">2.4</text>
<line x1="650.40" y1="176.30" x2="655.40" y2="176.30" stroke="#8a8a8a" stroke-width="1.5"/>
<text transform="matrix(0.9550,0,0,1.0000,659.333,180.786)" font-family="Liberation Sans" font-size="12.850" fill="#a5375e">3.0</text>
<line x1="650.40" y1="147.80" x2="655.40" y2="147.80" stroke="#8a8a8a" stroke-width="1.5"/>
<text transform="matrix(0.9550,0,0,1.0000,659.333,152.286)" font-family="Liberation Sans" font-size="12.850" fill="#a5375e">3.6</text>
<line x1="650.40" y1="119.30" x2="655.40" y2="119.30" stroke="#8a8a8a" stroke-width="1.5"/>
<text transform="matrix(0.9550,0,0,1.0000,659.518,123.786)" font-family="Liberation Sans" font-size="12.850" fill="#a5375e">4.2</text>
<line x1="650.40" y1="90.80" x2="655.40" y2="90.80" stroke="#8a8a8a" stroke-width="1.5"/>
<text transform="matrix(0.9550,0,0,1.0000,659.518,95.286)" font-family="Liberation Sans" font-size="12.850" fill="#a5375e">4.8</text>
<line x1="650.40" y1="62.30" x2="655.40" y2="62.30" stroke="#8a8a8a" stroke-width="1.5"/>
<text transform="matrix(0.9550,0,0,1.0000,659.309,66.786)" font-family="Liberation Sans" font-size="12.850" fill="#a5375e">5.4</text>
<text transform="matrix(1.0572,0,0,1.0000,291.841,362.300)" font-family="Liberation Sans" font-size="23.547" fill="#808080">Time (nsec)</text>
<text transform="translate(27.70,275.00) rotate(-90) matrix(1.0628,0,0,1.0000,-1.989,0.000)" font-family="Liberation Sans" font-size="22.820" fill="#808080">Protein RMSD (<tspan font-family="Liberation Serif" font-style="italic">Å</tspan>)</text>
<text transform="translate(660.80,87.30) rotate(90) matrix(1.0766,0,0,1.0000,-2.015,0.000)" font-family="Liberation Sans" font-size="22.820" fill="#a5375e">Ligand RMSD (<tspan font-family="Liberation Serif" font-style="italic">Å</tspan>)</text>
<rect x="279.00" y="376.10" width="163.40" height="23.40" rx="3" fill="#9c9c9c"/>
<rect x="276.00" y="373.60" width="163.40" height="23.40" rx="3" fill="#ffffff" stroke="#d0d0d0" stroke-width="1"/>
<rect x="275.00" y="379.00" width="27.00" height="11.00" fill="#577d98" />
<text transform="matrix(0.9378,0,0,1.0000,301.829,389.800)" font-family="Liberation Sans" font-size="16.183" fill="#000">C<tspan font-family="Liberation Sans" font-style="italic">α</tspan></text>
<rect x="324.40" y="379.00" width="26.50" height="11.00" fill="#a5375e" />
<text transform="matrix(1.1680,0,0,1.0000,350.040,389.800)" font-family="Liberation Sans" font-size="16.279" fill="#000">Lig fit Prot</text>
<text transform="matrix(1.0648,0,0,1.0000,340.075,436.682)" font-family="Liberation Serif" font-size="24.042" fill="#000" font-weight="bold">(a)</text>
<text transform="matrix(0.9616,0,0,1.0000,264.457,485.000)" font-family="Liberation Sans" font-size="23.983" fill="#000" font-weight="bold">Protein RMSF</text>
<rect x="159.19" y="753.20" width="2.60" height="32.60" fill="#008000" />
<rect x="161.27" y="746.89" width="2.60" height="38.91" fill="#008000" />
<rect x="167.50" y="754.61" width="2.60" height="31.19" fill="#008000" />
<rect x="169.58" y="753.85" width="2.60" height="31.95" fill="#008000" />
<rect x="229.84" y="661.69" width="2.60" height="124.11" fill="#008000" />
<rect x="231.92" y="634.67" width="2.60" height="151.13" fill="#008000" />
<rect x="360.75" y="730.25" width="2.60" height="55.55" fill="#008000" />
<rect x="362.83" y="712.21" width="2.60" height="73.59" fill="#008000" />
<rect x="364.91" y="697.13" width="2.60" height="88.67" fill="#008000" />
<rect x="366.99" y="680.46" width="2.60" height="105.34" fill="#008000" />
<rect x="369.07" y="662.46" width="2.60" height="123.34" fill="#008000" />
<rect x="371.14" y="684.08" width="2.60" height="101.72" fill="#008000" />
<rect x="373.22" y="690.26" width="2.60" height="95.54" fill="#008000" />
<rect x="375.30" y="704.53" width="2.60" height="81.27" fill="#008000" />
<rect x="381.53" y="733.53" width="2.60" height="52.27" fill="#008000" />
<rect x="383.61" y="733.53" width="2.60" height="52.27" fill="#008000" />
<rect x="389.85" y="745.16" width="2.60" height="40.64" fill="#008000" />
<rect x="400.24" y="746.65" width="2.60" height="39.15" fill="#008000" />
<rect x="410.63" y="752.75" width="2.60" height="33.05" fill="#008000" />
<rect x="416.86" y="753.57" width="2.60" height="32.23" fill="#008000" />
<rect x="418.94" y="750.31" width="2.60" height="35.49" fill="#008000" />
<rect x="423.09" y="747.58" width="2.60" height="38.22" fill="#008000" />
<rect x="425.17" y="741.96" width="2.60" height="43.84" fill="#008000" />
<rect x="441.80" y="620.01" width="2.60" height="165.79" fill="#008000" />
<rect x="443.87" y="610.00" width="2.60" height="175.80" fill="#008000" />
<rect x="445.95" y="586.15" width="2.60" height="199.65" fill="#008000" />
<rect x="450.11" y="668.34" width="2.60" height="117.46" fill="#008000" />
<rect x="481.28" y="746.69" width="2.60" height="39.11" fill="#008000" />
<rect x="541.54" y="730.35" width="2.60" height="55.45" fill="#008000" />
<rect x="543.62" y="723.57" width="2.60" height="62.23" fill="#008000" />
<rect x="547.77" y="721.51" width="2.60" height="64.29" fill="#008000" />
<rect x="549.85" y="731.62" width="2.60" height="54.18" fill="#008000" />
<rect x="554.01" y="700.04" width="2.60" height="85.76" fill="#008000" />
<rect x="556.09" y="690.26" width="2.60" height="95.54" fill="#008000" />
<rect x="568.55" y="741.40" width="2.60" height="44.40" fill="#008000" />
<rect x="614.27" y="759.78" width="2.60" height="26.02" fill="#008000" />
<rect x="620.50" y="757.55" width="2.60" height="28.25" fill="#008000" />
<polyline points="64.9,532.9 67.2,532.9 68.6,576.2 69.9,730.2 72.4,746.5 74.5,751.0 77.2,749.8 79.0,752.6 81.3,748.1 85.5,745.3 87.6,709.4 89.8,717.2 91.7,733.5 94.0,735.8 95.9,748.1 99.6,751.0 102.1,759.4 104.4,759.9 106.3,756.6 110.4,762.8 114.4,757.1 117.1,759.9 118.9,759.4 120.8,752.1 122.5,747.6 124.5,749.8 126.8,735.8 128.9,720.0 130.8,716.7 133.1,733.5 135.3,716.7 137.6,709.9 139.7,704.9 141.6,703.7 143.9,725.7 146.1,737.5 148.9,747.6 152.4,747.6 155.3,748.1 158.0,753.8 160.1,754.9 162.2,746.5 164.9,749.3 166.9,755.5 170.7,753.8 173.6,754.9 176.9,752.1 181.3,755.5 183.6,752.6 187.3,740.3 190.8,745.3 195.4,748.1 197.5,751.0 199.3,756.6 201.8,752.6 205.4,698.7 208.9,693.1 212.0,691.4 214.1,686.9 216.2,657.7 218.9,665.5 222.6,674.0 226.2,691.4 229.1,693.6 233.0,632.9 235.3,652.0 237.4,663.3 238.8,676.8 243.0,680.1 245.9,717.2 247.6,734.7 249.8,736.3 253.8,748.1 255.7,735.8 257.9,733.0 260.2,743.1 261.5,743.1 263.8,731.8 266.1,739.2 267.9,745.3 270.2,736.3 274.4,752.1 277.9,754.9 282.5,763.9 286.2,759.9 290.4,764.4 294.1,758.3 298.1,764.4 301.8,759.9 305.3,762.8 311.1,756.6 314.5,758.3 317.2,757.1 321.7,759.9 324.4,762.8 327.6,759.9 329.8,756.6 332.5,758.3 334.4,724.5 336.5,686.9 338.6,718.4 340.7,647.5 342.5,650.4 344.8,623.9 347.1,665.0 349.8,681.3 352.5,708.2 356.2,721.2 361.2,737.5 365.2,703.2 367.9,687.4 369.7,656.0 372.4,684.1 374.3,688.6 376.2,703.7 378.3,707.7 380.5,721.7 382.4,733.5 386.2,733.5 388.4,744.8 392.4,745.3 396.1,747.6 399.0,743.6 402.8,748.1 404.9,745.3 408.2,752.6 411.3,752.1 415.5,756.6 419.0,752.6 421.7,747.6 424.8,747.6 428.1,736.3 430.0,739.2 432.7,699.3 434.4,684.6 436.2,653.2 438.5,651.5 440.4,645.9 442.7,617.8 444.3,626.8 446.6,580.7 448.3,595.3 450.8,666.7 453.5,674.0 455.6,684.6 458.1,699.3 459.3,724.5 461.2,724.5 463.5,739.2 465.3,724.0 468.0,736.3 470.7,743.6 474.3,749.8 477.0,749.3 479.7,744.8 481.5,743.6 484.0,751.0 488.0,746.5 490.7,743.1 495.3,735.8 498.4,724.5 500.7,735.8 502.3,722.9 504.8,718.4 508.8,672.3 511.3,665.5 513.1,630.7 515.2,617.8 517.3,648.7 519.6,677.3 521.4,700.9 523.3,722.9 525.4,733.0 527.3,729.6 529.3,727.4 531.8,700.9 534.1,700.9 536.2,704.9 538.1,727.4 539.9,731.3 542.0,733.5 544.5,724.0 546.8,721.7 548.7,719.5 551.8,734.7 554.5,706.6 556.6,690.3 558.6,690.3 560.7,711.1 563.0,728.5 565.3,727.4 567.2,722.9 568.8,743.1 573.0,736.3 575.3,749.3 577.5,751.0 579.8,746.5 581.5,748.1 583.8,753.8 587.5,744.8 590.0,745.3 592.3,751.0 596.2,746.5 598.9,755.5 600.4,757.1 602.7,753.8 606.8,759.4 612.7,756.6 615.4,759.9 619.5,756.6 623.5,758.3 628.0,752.1 631.8,753.8 635.3,745.3 639.5,725.7 643.4,738.0 646.1,739.2 648.0,742.0 651.1,756.6 653.4,758.3 656.1,761.1 658.4,755.5 660.2,756.6 664.4,731.3 666.7,733.0 668.8,728.5 671.1,716.7 672.9,716.7 675.0,663.8" fill="none" stroke="#3f6a8a" stroke-width="2.0" stroke-linejoin="round" />
<rect x="64.80" y="509.50" width="612.40" height="276.30" fill="none" stroke="#8a8a8a" stroke-width="1.5"/>
<line x1="59.50" y1="757.70" x2="64.80" y2="757.70" stroke="#8a8a8a" stroke-width="1.5"/>
<text transform="matrix(1.0700,0,0,1.0000,36.467,762.150)" font-family="Liberation Sans" font-size="11.600" fill="#808080">0.5</text>
<line x1="59.50" y1="729.60" x2="64.80" y2="729.60" stroke="#8a8a8a" stroke-width="1.5"/>
<text transform="matrix(1.0700,0,0,1.0000,36.430,734.050)" font-family="Liberation Sans" font-size="11.600" fill="#808080">1.0</text>
<line x1="59.50" y1="701.50" x2="64.80" y2="701.50" stroke="#8a8a8a" stroke-width="1.5"/>
<text transform="matrix(1.0700,0,0,1.0000,36.467,705.950)" font-family="Liberation Sans" font-size="11.600" fill="#808080">1.5</text>
<line x1="59.50" y1="673.40" x2="64.80" y2="673.40" stroke="#8a8a8a" stroke-width="1.5"/>
<text transform="matrix(1.0700,0,0,1.0000,36.430,677.850)" font-family="Liberation Sans" font-size="11.600" fill="#808080">2.0</text>
<line x1="59.50" y1="645.30" x2="64.80" y2="645.30" stroke="#8a8a8a" stroke-width="1.5"/>
<text transform="matrix(1.0700,0,0,1.0000,36.467,649.750)" font-family="Liberation Sans" font-size="11.600" fill="#808080">2.5</text>
<line x1="59.50" y1="617.20" x2="64.80" y2="617.20" stroke="#8a8a8a" stroke-width="1.5"/>
<text transform="matrix(1.0700,0,0,1.0000,36.430,621.650)" font-family="Liberation Sans" font-size="11.600" fill="#808080">3.0</text>
<line x1="59.50" y1="589.10" x2="64.80" y2="589.10" stroke="#8a8a8a" stroke-width="1.5"/>
<text transform="matrix(1.0700,0,0,1.0000,36.467,593.550)" font-family="Liberation Sans" font-size="11.600" fill="#808080">3.5</text>
<line x1="59.50" y1="561.00" x2="64.80" y2="561.00" stroke="#8a8a8a" stroke-width="1.5"/>
<text transform="matrix(1.0700,0,0,1.0000,36.430,565.450)" font-family="Liberation Sans" font-size="11.600" fill="#808080">4.0</text>
<line x1="59.50" y1="532.90" x2="64.80" y2="532.90" stroke="#8a8a8a" stroke-width="1.5"/>
<text transform="matrix(1.0700,0,0,1.0000,36.467,537.350)" font-family="Liberation Sans" font-size="11.600" fill="#808080">4.5</text>
<line x1="64.90" y1="785.80" x2="64.90" y2="790.80" stroke="#8a8a8a" stroke-width="1.5"/>
<text transform="matrix(1.1000,0,0,1.0000,61.260,804.655)" font-family="Liberation Sans" font-size="11.900" fill="#808080">0</text>
<line x1="168.80" y1="785.80" x2="168.80" y2="790.80" stroke="#8a8a8a" stroke-width="1.5"/>
<text transform="matrix(1.1000,0,0,1.0000,161.514,804.655)" font-family="Liberation Sans" font-size="11.900" fill="#808080">50</text>
<line x1="272.70" y1="785.80" x2="272.70" y2="790.80" stroke="#8a8a8a" stroke-width="1.5"/>
<text transform="matrix(1.1000,0,0,1.0000,261.537,804.655)" font-family="Liberation Sans" font-size="11.900" fill="#808080">100</text>
<line x1="376.60" y1="785.80" x2="376.60" y2="790.80" stroke="#8a8a8a" stroke-width="1.5"/>
<text transform="matrix(1.1000,0,0,1.0000,365.437,804.655)" font-family="Liberation Sans" font-size="11.900" fill="#808080">150</text>
<line x1="480.50" y1="785.80" x2="480.50" y2="790.80" stroke="#8a8a8a" stroke-width="1.5"/>
<text transform="matrix(1.1000,0,0,1.0000,469.506,804.655)" font-family="Liberation Sans" font-size="11.900" fill="#808080">200</text>
<line x1="584.40" y1="785.80" x2="584.40" y2="790.80" stroke="#8a8a8a" stroke-width="1.5"/>
<text transform="matrix(1.1000,0,0,1.0000,573.406,804.655)" font-family="Liberation Sans" font-size="11.900" fill="#808080">250</text>
<text transform="matrix(1.1953,0,0,1.0000,288.091,829.800)" font-family="Liberation Sans" font-size="21.512" fill="#808080">Residue Index</text>
<text transform="translate(24.50,695.80) rotate(-90) matrix(0.9532,0,0,1.0000,-1.887,0.000)" font-family="Liberation Sans" font-size="24.128" fill="#808080">RMSF (<tspan font-family="Liberation Serif" font-style="italic">Å</tspan>)</text>
<rect x="347.70" y="843.10" width="52.60" height="24.00" rx="3" fill="#9c9c9c"/>
<rect x="344.70" y="840.60" width="52.60" height="24.00" rx="3" fill="#ffffff" stroke="#d0d0d0" stroke-width="1"/>
<rect x="343.00" y="846.20" width="28.80" height="10.80" fill="#4f7694" />
<text transform="matrix(0.9801,0,0,1.0000,370.173,857.000)" font-family="Liberation Sans" font-size="16.613" fill="#000">C<tspan font-family="Liberation Sans" font-style="italic">α</tspan></text>
<text transform="matrix(1.0162,0,0,1.0000,341.438,901.059)" font-family="Liberation Serif" font-size="26.027" fill="#000" font-weight="bold">(b)</text>
<polyline points="83.4,975.9 107.3,975.9 131.3,978.7 155.2,982.0 179.2,976.4 203.1,980.6 227.0,955.5 251.0,983.4 274.9,966.2 298.9,971.3 322.8,970.8 346.7,973.2 370.7,967.1 394.6,951.4 418.6,969.5 442.5,943.5 466.4,968.5 490.4,974.6 514.3,969.9 538.3,972.7 562.2,976.9 586.1,972.7 610.1,974.1 634.0,965.7 658.0,950.0" fill="none" stroke="#9c1f4b" stroke-width="2.25" stroke-linejoin="round" />
<rect x="59.70" y="941.50" width="618.10" height="135.60" fill="none" stroke="#8a8a8a" stroke-width="1.5"/>
<line x1="54.00" y1="1077.10" x2="59.70" y2="1077.10" stroke="#8a8a8a" stroke-width="1.5"/>
<text transform="matrix(0.8800,0,0,1.0000,42.111,1081.848)" font-family="Liberation Sans" font-size="13.600" fill="#808080">0</text>
<line x1="54.00" y1="1030.70" x2="59.70" y2="1030.70" stroke="#8a8a8a" stroke-width="1.5"/>
<text transform="matrix(0.8800,0,0,1.0000,42.228,1035.448)" font-family="Liberation Sans" font-size="13.600" fill="#808080">1</text>
<line x1="54.00" y1="984.30" x2="59.70" y2="984.30" stroke="#8a8a8a" stroke-width="1.5"/>
<text transform="matrix(0.8800,0,0,1.0000,42.246,989.048)" font-family="Liberation Sans" font-size="13.600" fill="#808080">2</text>
<line x1="83.40" y1="1077.10" x2="83.40" y2="1083.10" stroke="#8a8a8a" stroke-width="1.5"/>
<text transform="matrix(0.9000,0,0,1.0000,79.829,1097.348)" font-family="Liberation Sans" font-size="13.600" fill="#808080">1</text>
<line x1="107.34" y1="1077.10" x2="107.34" y2="1083.10" stroke="#8a8a8a" stroke-width="1.5"/>
<text transform="matrix(0.9000,0,0,1.0000,103.936,1097.348)" font-family="Liberation Sans" font-size="13.600" fill="#808080">2</text>
<line x1="131.28" y1="1077.10" x2="131.28" y2="1083.10" stroke="#8a8a8a" stroke-width="1.5"/>
<text transform="matrix(0.9000,0,0,1.0000,127.912,1097.348)" font-family="Liberation Sans" font-size="13.600" fill="#808080">3</text>
<line x1="155.22" y1="1077.10" x2="155.22" y2="1083.10" stroke="#8a8a8a" stroke-width="1.5"/>
<text transform="matrix(0.9000,0,0,1.0000,151.855,1097.348)" font-family="Liberation Sans" font-size="13.600" fill="#808080">4</text>
<line x1="179.16" y1="1077.10" x2="179.16" y2="1083.10" stroke="#8a8a8a" stroke-width="1.5"/>
<text transform="matrix(0.9000,0,0,1.0000,175.768,1097.348)" font-family="Liberation Sans" font-size="13.600" fill="#808080">5</text>
<line x1="203.10" y1="1077.10" x2="203.10" y2="1083.10" stroke="#8a8a8a" stroke-width="1.5"/>
<text transform="matrix(0.9000,0,0,1.0000,199.655,1097.348)" font-family="Liberation Sans" font-size="13.600" fill="#808080">6</text>
<line x1="227.04" y1="1077.10" x2="227.04" y2="1083.10" stroke="#8a8a8a" stroke-width="1.5"/>
<text transform="matrix(0.9000,0,0,1.0000,223.630,1097.348)" font-family="Liberation Sans" font-size="13.600" fill="#808080">7</text>
<line x1="250.98" y1="1077.10" x2="250.98" y2="1083.10" stroke="#8a8a8a" stroke-width="1.5"/>
<text transform="matrix(0.9000,0,0,1.0000,247.576,1097.348)" font-family="Liberation Sans" font-size="13.600" fill="#808080">8</text>
<line x1="274.92" y1="1077.10" x2="274.92" y2="1083.10" stroke="#8a8a8a" stroke-width="1.5"/>
<text transform="matrix(0.9000,0,0,1.0000,271.519,1097.348)" font-family="Liberation Sans" font-size="13.600" fill="#808080">9</text>
<line x1="298.86" y1="1077.10" x2="298.86" y2="1083.10" stroke="#8a8a8a" stroke-width="1.5"/>
<text transform="matrix(0.9000,0,0,1.0000,291.826,1097.348)" font-family="Liberation Sans" font-size="13.600" fill="#808080">10</text>
<line x1="322.80" y1="1077.10" x2="322.80" y2="1083.10" stroke="#8a8a8a" stroke-width="1.5"/>
<text transform="matrix(0.9000,0,0,1.0000,315.825,1097.348)" font-family="Liberation Sans" font-size="13.600" fill="#808080">11</text>
<line x1="346.74" y1="1077.10" x2="346.74" y2="1083.10" stroke="#8a8a8a" stroke-width="1.5"/>
<text transform="matrix(0.9000,0,0,1.0000,339.774,1097.348)" font-family="Liberation Sans" font-size="13.600" fill="#808080">12</text>
<line x1="370.68" y1="1077.10" x2="370.68" y2="1083.10" stroke="#8a8a8a" stroke-width="1.5"/>
<text transform="matrix(0.9000,0,0,1.0000,363.675,1097.348)" font-family="Liberation Sans" font-size="13.600" fill="#808080">13</text>
<line x1="394.62" y1="1077.10" x2="394.62" y2="1083.10" stroke="#8a8a8a" stroke-width="1.5"/>
<text transform="matrix(0.9000,0,0,1.0000,387.526,1097.348)" font-family="Liberation Sans" font-size="13.600" fill="#808080">14</text>
<line x1="418.56" y1="1077.10" x2="418.56" y2="1083.10" stroke="#8a8a8a" stroke-width="1.5"/>
<text transform="matrix(0.9000,0,0,1.0000,411.544,1097.348)" font-family="Liberation Sans" font-size="13.600" fill="#808080">15</text>
<line x1="442.50" y1="1077.10" x2="442.50" y2="1083.10" stroke="#8a8a8a" stroke-width="1.5"/>
<text transform="matrix(0.9000,0,0,1.0000,435.495,1097.348)" font-family="Liberation Sans" font-size="13.600" fill="#808080">16</text>
<line x1="466.44" y1="1077.10" x2="466.44" y2="1083.10" stroke="#8a8a8a" stroke-width="1.5"/>
<text transform="matrix(0.9000,0,0,1.0000,459.474,1097.348)" font-family="Liberation Sans" font-size="13.600" fill="#808080">17</text>
<line x1="490.38" y1="1077.10" x2="490.38" y2="1083.10" stroke="#8a8a8a" stroke-width="1.5"/>
<text transform="matrix(0.9000,0,0,1.0000,483.372,1097.348)" font-family="Liberation Sans" font-size="13.600" fill="#808080">18</text>
<line x1="514.32" y1="1077.10" x2="514.32" y2="1083.10" stroke="#8a8a8a" stroke-width="1.5"/>
<text transform="matrix(0.9000,0,0,1.0000,507.336,1097.348)" font-family="Liberation Sans" font-size="13.600" fill="#808080">19</text>
<line x1="538.26" y1="1077.10" x2="538.26" y2="1083.10" stroke="#8a8a8a" stroke-width="1.5"/>
<text transform="matrix(0.9000,0,0,1.0000,531.384,1097.348)" font-family="Liberation Sans" font-size="13.600" fill="#808080">20</text>
<line x1="562.20" y1="1077.10" x2="562.20" y2="1083.10" stroke="#8a8a8a" stroke-width="1.5"/>
<text transform="matrix(0.9000,0,0,1.0000,555.384,1097.348)" font-family="Liberation Sans" font-size="13.600" fill="#808080">21</text>
<line x1="586.14" y1="1077.10" x2="586.14" y2="1083.10" stroke="#8a8a8a" stroke-width="1.5"/>
<text transform="matrix(0.9000,0,0,1.0000,579.333,1097.348)" font-family="Liberation Sans" font-size="13.600" fill="#808080">22</text>
<line x1="610.08" y1="1077.10" x2="610.08" y2="1083.10" stroke="#8a8a8a" stroke-width="1.5"/>
<text transform="matrix(0.9000,0,0,1.0000,603.234,1097.348)" font-family="Liberation Sans" font-size="13.600" fill="#808080">23</text>
<line x1="634.02" y1="1077.10" x2="634.02" y2="1083.10" stroke="#8a8a8a" stroke-width="1.5"/>
<text transform="matrix(0.9000,0,0,1.0000,627.084,1097.348)" font-family="Liberation Sans" font-size="13.600" fill="#808080">24</text>
<line x1="657.96" y1="1077.10" x2="657.96" y2="1083.10" stroke="#8a8a8a" stroke-width="1.5"/>
<text transform="matrix(0.9000,0,0,1.0000,651.102,1097.348)" font-family="Liberation Sans" font-size="13.600" fill="#808080">25</text>
<text transform="translate(30.40,1058.20) rotate(-90) matrix(0.9240,0,0,1.0000,-1.906,0.000)" font-family="Liberation Sans" font-size="25.146" fill="#808080">RMSF (<tspan font-family="Liberation Serif" font-style="italic">Å</tspan>)</text>
<rect x="266.50" y="1107.30" width="213.70" height="24.20" rx="3" fill="#9c9c9c"/>
<rect x="263.50" y="1104.80" width="213.70" height="24.20" rx="3" fill="#ffffff" stroke="#d0d0d0" stroke-width="1"/>
<rect x="261.30" y="1109.90" width="29.20" height="11.60" fill="#a4284f" />
<text transform="matrix(1.0560,0,0,1.0000,289.163,1121.600)" font-family="Liberation Sans" font-size="18.896" fill="#000">Fit Ligand on Protein</text>
<text transform="matrix(1.0671,0,0,1.0000,343.352,1167.188)" font-family="Liberation Serif" font-size="24.483" fill="#000" font-weight="bold">(c)</text>
<text transform="matrix(0.9637,0,0,1.0000,198.835,1216.700)" font-family="Liberation Sans" font-size="24.274" fill="#000" font-weight="bold">Protein-Ligand Contacts</text>
<rect x="56.95" y="1494.46" width="12.80" height="16.44" fill="#bcaad4" />
<rect x="73.45" y="1507.50" width="12.80" height="3.40" fill="#7dc87d" />
<rect x="73.85" y="1463.48" width="12.00" height="43.61" fill="#3a6cb3" stroke="#2a5aa6" stroke-width="0.8"/>
<rect x="89.95" y="1498.99" width="12.80" height="11.91" fill="#7dc87d" />
<rect x="89.95" y="1325.68" width="12.80" height="173.31" fill="#bcaad4" />
<rect x="90.35" y="1313.61" width="12.00" height="11.67" fill="#3a6cb3" stroke="#2a5aa6" stroke-width="0.8"/>
<rect x="123.35" y="1507.90" width="12.00" height="2.60" fill="#3a6cb3" stroke="#2a5aa6" stroke-width="0.8"/>
<rect x="139.85" y="1508.84" width="12.00" height="1.66" fill="#3a6cb3" stroke="#2a5aa6" stroke-width="0.8"/>
<rect x="155.95" y="1509.01" width="12.80" height="1.89" fill="#bcaad4" />
<rect x="172.45" y="1503.72" width="12.80" height="7.18" fill="#7dc87d" />
<rect x="172.45" y="1499.37" width="12.80" height="4.35" fill="#bcaad4" />
<rect x="172.85" y="1467.26" width="12.00" height="31.71" fill="#3a6cb3" stroke="#2a5aa6" stroke-width="0.8"/>
<rect x="188.95" y="1492.38" width="12.80" height="18.52" fill="#7dc87d" />
<rect x="189.35" y="1468.78" width="12.00" height="23.20" fill="#3a6cb3" stroke="#2a5aa6" stroke-width="0.8"/>
<rect x="205.85" y="1506.39" width="12.00" height="4.11" fill="#3a6cb3" stroke="#2a5aa6" stroke-width="0.8"/>
<rect x="221.95" y="1459.87" width="12.80" height="51.03" fill="#7dc87d" />
<rect x="222.35" y="1439.48" width="12.00" height="19.99" fill="#3a6cb3" stroke="#2a5aa6" stroke-width="0.8"/>
<rect x="238.45" y="1412.62" width="12.80" height="98.28" fill="#7dc87d" />
<rect x="238.85" y="1377.11" width="12.00" height="35.11" fill="#3a6cb3" stroke="#2a5aa6" stroke-width="0.8"/>
<rect x="254.95" y="1509.01" width="12.80" height="1.89" fill="#7dc87d" />
<rect x="255.35" y="1504.69" width="12.00" height="3.92" fill="#3a6cb3" stroke="#2a5aa6" stroke-width="0.8"/>
<rect x="271.85" y="1510.36" width="12.00" height="0.20" fill="#3a6cb3" stroke="#2a5aa6" stroke-width="0.8"/>
<rect x="287.95" y="1492.57" width="12.80" height="18.33" fill="#bcaad4" />
<rect x="304.85" y="1508.65" width="12.00" height="1.85" fill="#3a6cb3" stroke="#2a5aa6" stroke-width="0.8"/>
<rect x="320.95" y="1485.57" width="12.80" height="25.33" fill="#bcaad4" />
<rect x="337.45" y="1508.63" width="12.80" height="2.27" fill="#bcaad4" />
<rect x="353.95" y="1508.44" width="12.80" height="2.46" fill="#bcaad4" />
<rect x="370.45" y="1478.20" width="12.80" height="32.70" fill="#bcaad4" />
<rect x="386.95" y="1501.83" width="12.80" height="9.07" fill="#bcaad4" />
<rect x="403.45" y="1501.83" width="12.80" height="9.07" fill="#bcaad4" />
<rect x="419.95" y="1503.53" width="12.80" height="7.37" fill="#7dc87d" />
<rect x="420.35" y="1493.53" width="12.00" height="9.59" fill="#3a6cb3" stroke="#2a5aa6" stroke-width="0.8"/>
<rect x="436.85" y="1510.54" width="12.00" height="0.20" fill="#3a6cb3" stroke="#2a5aa6" stroke-width="0.8"/>
<rect x="453.35" y="1504.69" width="12.00" height="5.82" fill="#3a6cb3" stroke="#2a5aa6" stroke-width="0.8"/>
<rect x="469.85" y="1506.20" width="12.00" height="4.30" fill="#3a6cb3" stroke="#2a5aa6" stroke-width="0.8"/>
<rect x="486.35" y="1502.42" width="12.00" height="8.08" fill="#3a6cb3" stroke="#2a5aa6" stroke-width="0.8"/>
<rect x="502.45" y="1509.77" width="12.80" height="1.13" fill="#bcaad4" />
<rect x="551.95" y="1478.01" width="12.80" height="32.89" fill="#7dc87d" />
<rect x="552.35" y="1433.81" width="12.00" height="43.80" fill="#3a6cb3" stroke="#2a5aa6" stroke-width="0.8"/>
<rect x="568.45" y="1327.95" width="12.80" height="182.95" fill="#7dc87d" />
<rect x="568.85" y="1261.82" width="12.00" height="65.73" fill="#3a6cb3" stroke="#2a5aa6" stroke-width="0.8"/>
<rect x="585.35" y="1509.41" width="12.00" height="1.09" fill="#3a6cb3" stroke="#2a5aa6" stroke-width="0.8"/>
<rect x="601.45" y="1488.79" width="12.80" height="22.11" fill="#bcaad4" />
<rect x="650.95" y="1509.58" width="12.80" height="1.32" fill="#bcaad4" />
<rect x="53.60" y="1248.50" width="626.40" height="262.40" fill="none" stroke="#8a8a8a" stroke-width="1.5"/>
<line x1="48.50" y1="1510.90" x2="53.60" y2="1510.90" stroke="#8a8a8a" stroke-width="1.5"/>
<text transform="matrix(0.7800,0,0,1.0000,28.357,1515.718)" font-family="Liberation Sans" font-size="13.800" fill="#808080">0.0</text>
<line x1="48.50" y1="1473.10" x2="53.60" y2="1473.10" stroke="#8a8a8a" stroke-width="1.5"/>
<text transform="matrix(0.7800,0,0,1.0000,28.478,1477.918)" font-family="Liberation Sans" font-size="13.800" fill="#808080">0.2</text>
<line x1="48.50" y1="1435.30" x2="53.60" y2="1435.30" stroke="#8a8a8a" stroke-width="1.5"/>
<text transform="matrix(0.7800,0,0,1.0000,28.252,1440.118)" font-family="Liberation Sans" font-size="13.800" fill="#808080">0.4</text>
<line x1="48.50" y1="1397.50" x2="53.60" y2="1397.50" stroke="#8a8a8a" stroke-width="1.5"/>
<text transform="matrix(0.7800,0,0,1.0000,28.410,1402.318)" font-family="Liberation Sans" font-size="13.800" fill="#808080">0.6</text>
<line x1="48.50" y1="1359.70" x2="53.60" y2="1359.70" stroke="#8a8a8a" stroke-width="1.5"/>
<text transform="matrix(0.7800,0,0,1.0000,28.404,1364.518)" font-family="Liberation Sans" font-size="13.800" fill="#808080">0.8</text>
<line x1="48.50" y1="1321.90" x2="53.60" y2="1321.90" stroke="#8a8a8a" stroke-width="1.5"/>
<text transform="matrix(0.7800,0,0,1.0000,28.357,1326.718)" font-family="Liberation Sans" font-size="13.800" fill="#808080">1.0</text>
<line x1="48.50" y1="1284.10" x2="53.60" y2="1284.10" stroke="#8a8a8a" stroke-width="1.5"/>
<text transform="matrix(0.7800,0,0,1.0000,28.478,1288.918)" font-family="Liberation Sans" font-size="13.800" fill="#808080">1.2</text>
<line x1="69.75" y1="1510.90" x2="69.75" y2="1515.90" stroke="#8a8a8a" stroke-width="1.5"/>
<text transform="translate(75.35,1528.30) scale(0.85,1) rotate(-45) scale(1.02,1)" font-family="Liberation Sans" font-size="12.8" fill="#000" text-anchor="end">VAL_47</text>
<line x1="86.25" y1="1510.90" x2="86.25" y2="1515.90" stroke="#8a8a8a" stroke-width="1.5"/>
<text transform="translate(91.85,1528.30) scale(0.85,1) rotate(-45) scale(1.02,1)" font-family="Liberation Sans" font-size="12.8" fill="#000" text-anchor="end">ARG_48</text>
<line x1="102.75" y1="1510.90" x2="102.75" y2="1515.90" stroke="#8a8a8a" stroke-width="1.5"/>
<text transform="translate(108.35,1528.30) scale(0.85,1) rotate(-45) scale(1.02,1)" font-family="Liberation Sans" font-size="12.8" fill="#000" text-anchor="end">TRP_51</text>
<line x1="119.25" y1="1510.90" x2="119.25" y2="1515.90" stroke="#8a8a8a" stroke-width="1.5"/>
<text transform="translate(124.85,1528.30) scale(0.85,1) rotate(-45) scale(1.02,1)" font-family="Liberation Sans" font-size="12.8" fill="#000" text-anchor="end">HIS_52</text>
<line x1="135.75" y1="1510.90" x2="135.75" y2="1515.90" stroke="#8a8a8a" stroke-width="1.5"/>
<text transform="translate(141.35,1528.30) scale(0.85,1) rotate(-45) scale(1.02,1)" font-family="Liberation Sans" font-size="12.8" fill="#000" text-anchor="end">SER_81</text>
<line x1="152.25" y1="1510.90" x2="152.25" y2="1515.90" stroke="#8a8a8a" stroke-width="1.5"/>
<text transform="translate(157.85,1528.30) scale(0.85,1) rotate(-45) scale(1.02,1)" font-family="Liberation Sans" font-size="12.8" fill="#000" text-anchor="end">ASN_82</text>
<line x1="168.75" y1="1510.90" x2="168.75" y2="1515.90" stroke="#8a8a8a" stroke-width="1.5"/>
<text transform="translate(174.35,1528.30) scale(0.85,1) rotate(-45) scale(1.02,1)" font-family="Liberation Sans" font-size="12.8" fill="#000" text-anchor="end">LEU_144</text>
<line x1="185.25" y1="1510.90" x2="185.25" y2="1515.90" stroke="#8a8a8a" stroke-width="1.5"/>
<text transform="translate(190.85,1528.30) scale(0.85,1) rotate(-45) scale(1.02,1)" font-family="Liberation Sans" font-size="12.8" fill="#000" text-anchor="end">PRO_145</text>
<line x1="201.75" y1="1510.90" x2="201.75" y2="1515.90" stroke="#8a8a8a" stroke-width="1.5"/>
<text transform="translate(207.35,1528.30) scale(0.85,1) rotate(-45) scale(1.02,1)" font-family="Liberation Sans" font-size="12.8" fill="#000" text-anchor="end">ASP_146</text>
<line x1="218.25" y1="1510.90" x2="218.25" y2="1515.90" stroke="#8a8a8a" stroke-width="1.5"/>
<text transform="translate(223.85,1528.30) scale(0.85,1) rotate(-45) scale(1.02,1)" font-family="Liberation Sans" font-size="12.8" fill="#000" text-anchor="end">ALA_147</text>
<line x1="234.75" y1="1510.90" x2="234.75" y2="1515.90" stroke="#8a8a8a" stroke-width="1.5"/>
<text transform="translate(240.35,1528.30) scale(0.85,1) rotate(-45) scale(1.02,1)" font-family="Liberation Sans" font-size="12.8" fill="#000" text-anchor="end">ASP_148</text>
<line x1="251.25" y1="1510.90" x2="251.25" y2="1515.90" stroke="#8a8a8a" stroke-width="1.5"/>
<text transform="translate(256.85,1528.30) scale(0.85,1) rotate(-45) scale(1.02,1)" font-family="Liberation Sans" font-size="12.8" fill="#000" text-anchor="end">LYS_149</text>
<line x1="267.75" y1="1510.90" x2="267.75" y2="1515.90" stroke="#8a8a8a" stroke-width="1.5"/>
<text transform="translate(273.35,1528.30) scale(0.85,1) rotate(-45) scale(1.02,1)" font-family="Liberation Sans" font-size="12.8" fill="#000" text-anchor="end">ASP_150</text>
<line x1="284.25" y1="1510.90" x2="284.25" y2="1515.90" stroke="#8a8a8a" stroke-width="1.5"/>
<text transform="translate(289.85,1528.30) scale(0.85,1) rotate(-45) scale(1.02,1)" font-family="Liberation Sans" font-size="12.8" fill="#000" text-anchor="end">ALA_151</text>
<line x1="300.75" y1="1510.90" x2="300.75" y2="1515.90" stroke="#8a8a8a" stroke-width="1.5"/>
<text transform="translate(306.35,1528.30) scale(0.85,1) rotate(-45) scale(1.02,1)" font-family="Liberation Sans" font-size="12.8" fill="#000" text-anchor="end">VAL_154</text>
<line x1="317.25" y1="1510.90" x2="317.25" y2="1515.90" stroke="#8a8a8a" stroke-width="1.5"/>
<text transform="translate(322.85,1528.30) scale(0.85,1) rotate(-45) scale(1.02,1)" font-family="Liberation Sans" font-size="12.8" fill="#000" text-anchor="end">ARG_155</text>
<line x1="333.75" y1="1510.90" x2="333.75" y2="1515.90" stroke="#8a8a8a" stroke-width="1.5"/>
<text transform="translate(339.35,1528.30) scale(0.85,1) rotate(-45) scale(1.02,1)" font-family="Liberation Sans" font-size="12.8" fill="#000" text-anchor="end">PHE_158</text>
<line x1="350.25" y1="1510.90" x2="350.25" y2="1515.90" stroke="#8a8a8a" stroke-width="1.5"/>
<text transform="translate(355.85,1528.30) scale(0.85,1) rotate(-45) scale(1.02,1)" font-family="Liberation Sans" font-size="12.8" fill="#000" text-anchor="end">MET_163</text>
<line x1="366.75" y1="1510.90" x2="366.75" y2="1515.90" stroke="#8a8a8a" stroke-width="1.5"/>
<text transform="translate(372.35,1528.30) scale(0.85,1) rotate(-45) scale(1.02,1)" font-family="Liberation Sans" font-size="12.8" fill="#000" text-anchor="end">VAL_168</text>
<line x1="383.25" y1="1510.90" x2="383.25" y2="1515.90" stroke="#8a8a8a" stroke-width="1.5"/>
<text transform="translate(388.85,1528.30) scale(0.85,1) rotate(-45) scale(1.02,1)" font-family="Liberation Sans" font-size="12.8" fill="#000" text-anchor="end">LEU_171</text>
<line x1="399.75" y1="1510.90" x2="399.75" y2="1515.90" stroke="#8a8a8a" stroke-width="1.5"/>
<text transform="translate(405.35,1528.30) scale(0.85,1) rotate(-45) scale(1.02,1)" font-family="Liberation Sans" font-size="12.8" fill="#000" text-anchor="end">MET_172</text>
<line x1="416.25" y1="1510.90" x2="416.25" y2="1515.90" stroke="#8a8a8a" stroke-width="1.5"/>
<text transform="translate(421.85,1528.30) scale(0.85,1) rotate(-45) scale(1.02,1)" font-family="Liberation Sans" font-size="12.8" fill="#000" text-anchor="end">ALA_174</text>
<line x1="432.75" y1="1510.90" x2="432.75" y2="1515.90" stroke="#8a8a8a" stroke-width="1.5"/>
<text transform="translate(438.35,1528.30) scale(0.85,1) rotate(-45) scale(1.02,1)" font-family="Liberation Sans" font-size="12.8" fill="#000" text-anchor="end">HIS_175</text>
<line x1="449.25" y1="1510.90" x2="449.25" y2="1515.90" stroke="#8a8a8a" stroke-width="1.5"/>
<text transform="translate(454.85,1528.30) scale(0.85,1) rotate(-45) scale(1.02,1)" font-family="Liberation Sans" font-size="12.8" fill="#000" text-anchor="end">LYS_183</text>
<line x1="465.75" y1="1510.90" x2="465.75" y2="1515.90" stroke="#8a8a8a" stroke-width="1.5"/>
<text transform="translate(471.35,1528.30) scale(0.85,1) rotate(-45) scale(1.02,1)" font-family="Liberation Sans" font-size="12.8" fill="#000" text-anchor="end">ARG_184</text>
<line x1="482.25" y1="1510.90" x2="482.25" y2="1515.90" stroke="#8a8a8a" stroke-width="1.5"/>
<text transform="translate(487.85,1528.30) scale(0.85,1) rotate(-45) scale(1.02,1)" font-family="Liberation Sans" font-size="12.8" fill="#000" text-anchor="end">SER_185</text>
<line x1="498.75" y1="1510.90" x2="498.75" y2="1515.90" stroke="#8a8a8a" stroke-width="1.5"/>
<text transform="translate(504.35,1528.30) scale(0.85,1) rotate(-45) scale(1.02,1)" font-family="Liberation Sans" font-size="12.8" fill="#000" text-anchor="end">TYR_187</text>
<line x1="515.25" y1="1510.90" x2="515.25" y2="1515.90" stroke="#8a8a8a" stroke-width="1.5"/>
<text transform="translate(520.85,1528.30) scale(0.85,1) rotate(-45) scale(1.02,1)" font-family="Liberation Sans" font-size="12.8" fill="#000" text-anchor="end">PHE_202</text>
<line x1="531.75" y1="1510.90" x2="531.75" y2="1515.90" stroke="#8a8a8a" stroke-width="1.5"/>
<text transform="translate(537.35,1528.30) scale(0.85,1) rotate(-45) scale(1.02,1)" font-family="Liberation Sans" font-size="12.8" fill="#000" text-anchor="end">MET_231</text>
<line x1="548.25" y1="1510.90" x2="548.25" y2="1515.90" stroke="#8a8a8a" stroke-width="1.5"/>
<text transform="translate(553.85,1528.30) scale(0.85,1) rotate(-45) scale(1.02,1)" font-family="Liberation Sans" font-size="12.8" fill="#000" text-anchor="end">LEU_232</text>
<line x1="564.75" y1="1510.90" x2="564.75" y2="1515.90" stroke="#8a8a8a" stroke-width="1.5"/>
<text transform="translate(570.35,1528.30) scale(0.85,1) rotate(-45) scale(1.02,1)" font-family="Liberation Sans" font-size="12.8" fill="#000" text-anchor="end">THR_234</text>
<line x1="581.25" y1="1510.90" x2="581.25" y2="1515.90" stroke="#8a8a8a" stroke-width="1.5"/>
<text transform="translate(586.85,1528.30) scale(0.85,1) rotate(-45) scale(1.02,1)" font-family="Liberation Sans" font-size="12.8" fill="#000" text-anchor="end">ASP_235</text>
<line x1="597.75" y1="1510.90" x2="597.75" y2="1515.90" stroke="#8a8a8a" stroke-width="1.5"/>
<text transform="translate(603.35,1528.30) scale(0.85,1) rotate(-45) scale(1.02,1)" font-family="Liberation Sans" font-size="12.8" fill="#000" text-anchor="end">SER_237</text>
<line x1="614.25" y1="1510.90" x2="614.25" y2="1515.90" stroke="#8a8a8a" stroke-width="1.5"/>
<text transform="translate(619.85,1528.30) scale(0.85,1) rotate(-45) scale(1.02,1)" font-family="Liberation Sans" font-size="12.8" fill="#000" text-anchor="end">LEU_238</text>
<line x1="630.75" y1="1510.90" x2="630.75" y2="1515.90" stroke="#8a8a8a" stroke-width="1.5"/>
<text transform="translate(636.35,1528.30) scale(0.85,1) rotate(-45) scale(1.02,1)" font-family="Liberation Sans" font-size="12.8" fill="#000" text-anchor="end">TYR_244</text>
<line x1="647.25" y1="1510.90" x2="647.25" y2="1515.90" stroke="#8a8a8a" stroke-width="1.5"/>
<text transform="translate(652.85,1528.30) scale(0.85,1) rotate(-45) scale(1.02,1)" font-family="Liberation Sans" font-size="12.8" fill="#000" text-anchor="end">PHE_266</text>
<line x1="663.75" y1="1510.90" x2="663.75" y2="1515.90" stroke="#8a8a8a" stroke-width="1.5"/>
<text transform="translate(669.35,1528.30) scale(0.85,1) rotate(-45) scale(1.02,1)" font-family="Liberation Sans" font-size="12.8" fill="#000" text-anchor="end">LEU_269</text>
<text transform="translate(18.60,1480.80) rotate(-90) matrix(1.2660,0,0,1.0000,-2.089,0.000)" font-family="Liberation Sans" font-size="17.878" fill="#808080">Interactions Fraction</text>
<rect x="163.20" y="1590.50" width="412.30" height="23.70" rx="3" fill="#9c9c9c"/>
<rect x="160.60" y="1588.90" width="412.30" height="23.70" rx="3" fill="#ffffff" stroke="#d0d0d0" stroke-width="1"/>
<rect x="163.70" y="1594.20" width="15.80" height="12.50" fill="#7dc87d" />
<text transform="matrix(0.9019,0,0,1.0000,182.602,1606.800)" font-family="Liberation Sans" font-size="18.896" fill="#000">H-bonds</text>
<rect x="253.00" y="1594.20" width="16.00" height="12.50" fill="#bcaad4" />
<text transform="matrix(0.9088,0,0,1.0000,271.970,1606.800)" font-family="Liberation Sans" font-size="19.186" fill="#000">Hydrophobic</text>
<rect x="378.50" y="1594.20" width="14.80" height="12.50" fill="#e8157e" />
<text transform="matrix(0.9450,0,0,1.0000,395.752,1606.800)" font-family="Liberation Sans" font-size="18.896" fill="#000">Ionic</text>
<rect x="440.50" y="1594.20" width="15.10" height="12.50" fill="#3a6cb3" />
<text transform="matrix(0.9328,0,0,1.0000,459.323,1606.800)" font-family="Liberation Sans" font-size="18.896" fill="#000">Water bridges</text>
<text transform="matrix(1.0904,0,0,1.0000,343.353,1648.205)" font-family="Liberation Serif" font-size="23.932" fill="#000" font-weight="bold">(d)</text>
</svg>
</body></html>
